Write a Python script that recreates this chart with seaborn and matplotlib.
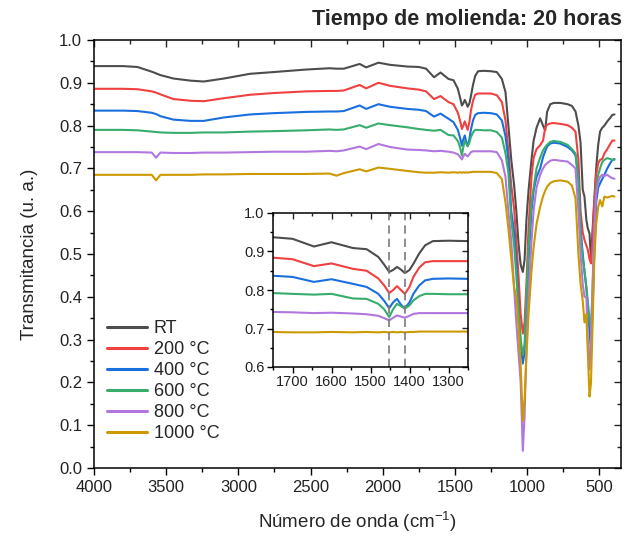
import numpy as np
import pandas as pd
import matplotlib
matplotlib.use("Agg")
import matplotlib.pyplot as plt
import seaborn as sns
from matplotlib.ticker import MultipleLocator

# ---------------- data ----------------
wavenumber = [4000, 3800, 3700, 3600, 3570, 3540, 3450, 3330, 3240, 3100,
              2920, 2760, 2530, 2370, 2320, 2270, 2160, 2115, 2030, 1950,
              1830, 1750, 1700, 1645, 1600, 1545, 1510, 1480, 1465, 1452,
              1442, 1432, 1422, 1412, 1400, 1390, 1375, 1360, 1340, 1300,
              1250, 1210, 1175, 1150, 1130, 1110, 1090, 1075, 1060, 1045,
              1030, 1018, 1005, 990, 970, 955, 935, 910, 890, 875,
              862, 840, 815, 770, 720, 690, 665, 645, 630, 615,
              603, 590, 580, 568, 558, 548, 535, 522, 508, 495,
              480, 465, 445, 425, 410, 395]

rt = [0.939, 0.939, 0.937, 0.926, 0.922, 0.918, 0.910, 0.905, 0.903, 0.910,
      0.921, 0.925, 0.931, 0.934, 0.933, 0.933, 0.944, 0.936, 0.947, 0.942,
      0.938, 0.937, 0.933, 0.913, 0.924, 0.909, 0.906, 0.886, 0.866, 0.847,
      0.852, 0.860, 0.853, 0.844, 0.852, 0.868, 0.895, 0.916, 0.927, 0.928,
      0.927, 0.925, 0.909, 0.878, 0.800, 0.720, 0.660, 0.600, 0.525, 0.475,
      0.458, 0.486, 0.580, 0.650, 0.720, 0.765, 0.795, 0.817, 0.800, 0.789,
      0.832, 0.850, 0.853, 0.853, 0.850, 0.846, 0.833, 0.800, 0.760, 0.650,
      0.634, 0.580, 0.560, 0.548, 0.486, 0.550, 0.626, 0.700, 0.755, 0.786,
      0.795, 0.800, 0.810, 0.818, 0.825, 0.826]

c200 = [0.886, 0.886, 0.885, 0.880, 0.877, 0.873, 0.862, 0.858, 0.857, 0.864,
        0.872, 0.876, 0.880, 0.881, 0.881, 0.882, 0.895, 0.887, 0.900, 0.893,
        0.887, 0.884, 0.880, 0.862, 0.869, 0.855, 0.850, 0.830, 0.812, 0.792,
        0.800, 0.810, 0.800, 0.790, 0.808, 0.834, 0.858, 0.872, 0.875, 0.875,
        0.875, 0.871, 0.855, 0.812, 0.740, 0.660, 0.605, 0.530, 0.450, 0.360,
        0.314, 0.340, 0.430, 0.564, 0.680, 0.725, 0.745, 0.754, 0.765, 0.795,
        0.802, 0.805, 0.806, 0.804, 0.801, 0.795, 0.786, 0.720, 0.600, 0.550,
        0.533, 0.520, 0.510, 0.488, 0.478, 0.530, 0.620, 0.685, 0.712, 0.720,
        0.722, 0.735, 0.745, 0.757, 0.765, 0.765]

c400 = [0.835, 0.835, 0.834, 0.830, 0.827, 0.822, 0.814, 0.811, 0.811, 0.819,
        0.826, 0.829, 0.832, 0.833, 0.833, 0.834, 0.847, 0.839, 0.850, 0.844,
        0.839, 0.837, 0.834, 0.821, 0.828, 0.816, 0.808, 0.790, 0.772, 0.753,
        0.768, 0.777, 0.762, 0.752, 0.768, 0.790, 0.812, 0.825, 0.829, 0.830,
        0.829, 0.826, 0.812, 0.775, 0.720, 0.600, 0.550, 0.480, 0.380, 0.290,
        0.244, 0.270, 0.360, 0.486, 0.600, 0.648, 0.680, 0.700, 0.726, 0.740,
        0.751, 0.758, 0.760, 0.758, 0.750, 0.742, 0.731, 0.680, 0.560, 0.500,
        0.460, 0.420, 0.377, 0.320, 0.276, 0.360, 0.500, 0.620, 0.655, 0.665,
        0.675, 0.685, 0.700, 0.712, 0.720, 0.722]

c600 = [0.790, 0.790, 0.789, 0.786, 0.785, 0.784, 0.783, 0.783, 0.784, 0.784,
        0.786, 0.787, 0.789, 0.791, 0.790, 0.791, 0.801, 0.795, 0.805, 0.801,
        0.796, 0.792, 0.790, 0.788, 0.790, 0.778, 0.777, 0.764, 0.750, 0.730,
        0.750, 0.764, 0.758, 0.752, 0.760, 0.773, 0.784, 0.790, 0.790, 0.789,
        0.789, 0.785, 0.772, 0.735, 0.690, 0.580, 0.520, 0.450, 0.370, 0.300,
        0.264, 0.290, 0.400, 0.517, 0.620, 0.655, 0.700, 0.725, 0.742, 0.750,
        0.755, 0.762, 0.764, 0.762, 0.755, 0.745, 0.735, 0.670, 0.550, 0.490,
        0.460, 0.424, 0.390, 0.345, 0.330, 0.400, 0.550, 0.655, 0.685, 0.700,
        0.715, 0.720, 0.724, 0.722, 0.720, 0.720]

c800 = [0.738, 0.738, 0.738, 0.737, 0.725, 0.737, 0.736, 0.736, 0.737, 0.737,
        0.738, 0.739, 0.739, 0.741, 0.740, 0.742, 0.751, 0.745, 0.757, 0.750,
        0.744, 0.743, 0.742, 0.740, 0.741, 0.739, 0.737, 0.733, 0.727, 0.721,
        0.728, 0.734, 0.731, 0.728, 0.733, 0.738, 0.740, 0.740, 0.740, 0.740,
        0.740, 0.738, 0.719, 0.680, 0.600, 0.530, 0.420, 0.340, 0.270, 0.200,
        0.040, 0.120, 0.280, 0.408, 0.530, 0.603, 0.655, 0.685, 0.700, 0.708,
        0.712, 0.718, 0.720, 0.718, 0.716, 0.708, 0.700, 0.600, 0.500, 0.430,
        0.400, 0.400, 0.300, 0.230, 0.300, 0.420, 0.560, 0.640, 0.668, 0.680,
        0.685, 0.682, 0.685, 0.680, 0.677, 0.676]

c1000 = [0.685, 0.685, 0.685, 0.685, 0.672, 0.685, 0.685, 0.685, 0.686, 0.686,
         0.687, 0.687, 0.687, 0.688, 0.683, 0.689, 0.698, 0.693, 0.702, 0.699,
         0.694, 0.691, 0.690, 0.690, 0.691, 0.690, 0.691, 0.690, 0.691, 0.690,
         0.691, 0.690, 0.691, 0.690, 0.691, 0.691, 0.692, 0.692, 0.692, 0.692,
         0.692, 0.689, 0.675, 0.620, 0.560, 0.490, 0.420, 0.400, 0.330, 0.240,
         0.110, 0.160, 0.260, 0.361, 0.460, 0.517, 0.570, 0.610, 0.635, 0.648,
         0.657, 0.666, 0.670, 0.672, 0.669, 0.660, 0.630, 0.500, 0.430, 0.390,
         0.340, 0.360, 0.270, 0.167, 0.198, 0.320, 0.486, 0.570, 0.610, 0.626,
         0.611, 0.634, 0.632, 0.634, 0.636, 0.634]

series_labels = ["RT", "200 °C", "400 °C", "600 °C", "800 °C", "1000 °C"]
series_values = [rt, c200, c400, c600, c800, c1000]
series_colors = ["#4d4d4d", "#F14040", "#1A6FDF", "#37AD6B", "#B177DE", "#CC9900"]

main_xticks = [4000, 3500, 3000, 2500, 2000, 1500, 1000, 500]
main_yticks = [0.0, 0.1, 0.2, 0.3, 0.4, 0.5, 0.6, 0.7, 0.8, 0.9, 1.0]
inset_xticks = [1700, 1600, 1500, 1400, 1300]
inset_yticks = [0.6, 0.7, 0.8, 0.9, 1.0]
dashed_positions = [1452, 1412]

title_text = "Tiempo de molienda: 20 horas"
x_label = "Número de onda (cm$^{\\mathregular{-1}}$)"
y_label = "Transmitancia (u. a.)"

# ---------------- style ----------------
sns.set_style("ticks")
plt.rcParams["font.family"] = ["Liberation Sans", "DejaVu Sans"]
plt.rcParams["mathtext.fontset"] = "custom"
plt.rcParams["mathtext.rm"] = "Liberation Sans"
plt.rcParams["mathtext.it"] = "Liberation Sans:italic"
plt.rcParams["mathtext.bf"] = "Liberation Sans:bold"

df = pd.concat(
    [pd.DataFrame({"wn": wavenumber, "T": vals, "muestra": lab})
     for lab, vals in zip(series_labels, series_values)],
    ignore_index=True)
palette = dict(zip(series_labels, series_colors))

fig = plt.figure(figsize=(6.28, 5.4), dpi=100)
W, H = 628, 540


def style_axes(a, xmaj, xmin, ymaj, ymin, lab_size, maj_len, min_len):
    for s in a.spines.values():
        s.set_color("black")
        s.set_linewidth(1.1)
    a.xaxis.set_minor_locator(MultipleLocator(xmin))
    a.yaxis.set_minor_locator(MultipleLocator(ymin))
    a.tick_params(which="major", direction="out", length=maj_len, width=1.0,
                  labelsize=lab_size, colors="black", labelcolor="#222222")
    a.tick_params(which="minor", direction="out", length=min_len, width=1.0,
                  colors="black")
    a.tick_params(top=False, right=False)
    top = a.secondary_xaxis("top")
    top.xaxis.set_major_locator(MultipleLocator(xmaj))
    top.xaxis.set_minor_locator(MultipleLocator(xmin))
    top.tick_params(which="major", direction="in", length=maj_len, width=1.0, labeltop=False)
    top.tick_params(which="minor", direction="in", length=min_len, width=1.0)
    right = a.secondary_yaxis("right")
    right.yaxis.set_major_locator(MultipleLocator(ymaj))
    right.yaxis.set_minor_locator(MultipleLocator(ymin))
    right.tick_params(which="major", direction="in", length=maj_len, width=1.0, labelright=False)
    right.tick_params(which="minor", direction="in", length=min_len, width=1.0)
    for sp in list(top.spines.values()) + list(right.spines.values()):
        sp.set_visible(False)


# ---------------- main axes ----------------
ax = fig.add_axes([94 / W, 1 - 468 / H, 527 / W, 428 / H])
sns.lineplot(data=df, x="wn", y="T", hue="muestra", hue_order=series_labels,
             palette=palette, estimator=None, sort=False, linewidth=1.5, ax=ax)
ax.set_xlim(4000, 350)
ax.set_ylim(0, 1.0)
ax.set_xticks(main_xticks)
ax.set_xticklabels([str(t) for t in main_xticks])
ax.set_yticks(main_yticks)
ax.set_yticklabels([f"{v:.1f}" for v in main_yticks])
style_axes(ax, 500, 250, 0.1, 0.05, 12, 5, 3)
ax.set_xlabel(x_label, fontsize=13.5, labelpad=11)
ax.set_ylabel(y_label, fontsize=13.5, labelpad=15)

handles, labs = ax.get_legend_handles_labels()
leg = ax.legend(handles, labs, loc="lower left", bbox_to_anchor=(0.005, 0.035),
                frameon=False, fontsize=13, handlelength=2.2, handletextpad=0.35,
                labelspacing=0.22, borderaxespad=0.2)
for l in leg.get_lines():
    l.set_linewidth(2.2)

fig.text(0.99, 1 - 20 / H, title_text, ha="right", va="center",
         fontsize=15.5, fontweight="bold")

# ---------------- inset ----------------
ax_in = fig.add_axes([273 / W, 1 - 367 / H, 195 / W, 154 / H])
ax_in.set_facecolor("white")
sns.lineplot(data=df, x="wn", y="T", hue="muestra", hue_order=series_labels,
             palette=palette, estimator=None, sort=False, linewidth=1.5,
             legend=False, ax=ax_in)
for xv in dashed_positions:
    ax_in.axvline(xv, color="#7a7a7a", linestyle=(0, (5, 3)), linewidth=1.2)
ax_in.set_xlim(1750, 1250)
ax_in.set_ylim(0.6, 1.0)
ax_in.set_xticks(inset_xticks)
ax_in.set_xticklabels([str(t) for t in inset_xticks])
ax_in.set_yticks(inset_yticks)
ax_in.set_yticklabels([f"{v:.1f}" for v in inset_yticks])
style_axes(ax_in, 100, 50, 0.1, 0.05, 10.5, 4, 2.5)
ax_in.set_xlabel("")
ax_in.set_ylabel("")
ax_in.tick_params(axis="both", pad=2)

fig.savefig("out.png", dpi=100)
